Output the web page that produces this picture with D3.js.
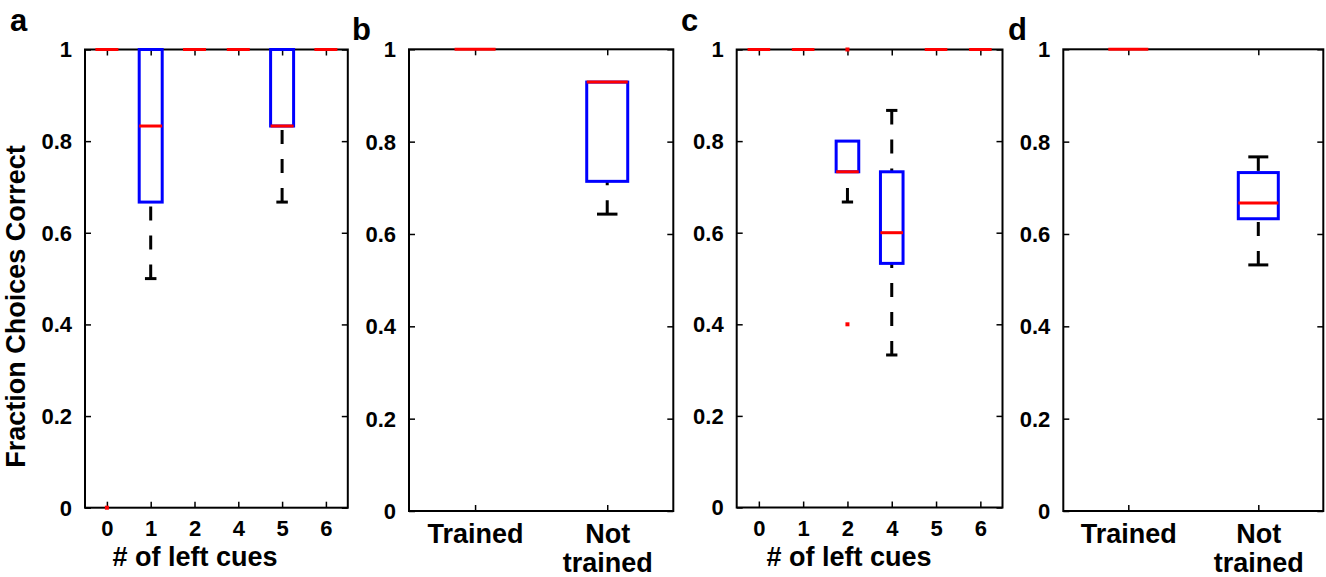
<!DOCTYPE html>
<html>
<head>
<meta charset="utf-8">
<script src="https://cdn.jsdelivr.net/npm/d3@7"></script>
<style>
  html, body { margin: 0; padding: 0; background: #fff; }
  svg { display: block; }
  text { font-family: "Liberation Sans", Arial, Helvetica, sans-serif; font-weight: bold; fill: #000; }
</style>
</head>
<body>
<svg id="chart" width="1326" height="577"></svg>
<script>
// ---- data ----------------------------------------------------------------
const cueCategories = ["0", "1", "2", "4", "5", "6"];
const trainingCategories = ["Trained", "Not trained"];
const yTickValues = [0, 0.2, 0.4, 0.6, 0.8, 1];

// panel a: fraction correct by number of left cues
const aLowerWhisker = [1, 0.5, 1, 1, 0.667, 1];
const aQ1           = [1, 0.667, 1, 1, 0.833, 1];
const aMedian       = [1, 0.833, 1, 1, 0.833, 1];
const aQ3           = [1, 1, 1, 1, 1, 1];
const aUpperWhisker = [1, 1, 1, 1, 1, 1];
const aOutliers     = [[0], [], [], [], [], []];

// panel b: trained vs. not trained trial types
const bLowerWhisker = [1, 0.643];
const bQ1           = [1, 0.714];
const bMedian       = [1, 0.929];
const bQ3           = [1, 0.929];
const bUpperWhisker = [1, 0.929];
const bOutliers     = [[], []];

// panel c: fraction correct by number of left cues
const cLowerWhisker = [1, 1, 0.667, 0.333, 1, 1];
const cQ1           = [1, 1, 0.733, 0.533, 1, 1];
const cMedian       = [1, 1, 0.733, 0.6, 1, 1];
const cQ3           = [1, 1, 0.8, 0.733, 1, 1];
const cUpperWhisker = [1, 1, 0.8, 0.867, 1, 1];
const cOutliers     = [[], [], [0.4, 1], [], [], []];

// panel d: trained vs. not trained trial types
const dLowerWhisker = [1, 0.533];
const dQ1           = [1, 0.633];
const dMedian       = [1, 0.667];
const dQ3           = [1, 0.733];
const dUpperWhisker = [1, 0.767];
const dOutliers     = [[], []];

// ---- layout --------------------------------------------------------------
const panels = [
  { letter: "a", lx: 10, ly: 31, left: 85, right: 347.8, top: 49.5, bottom: 507.7,
    cats: cueCategories, lo: aLowerWhisker, q1: aQ1, med: aMedian, q3: aQ3, hi: aUpperWhisker, out: aOutliers,
    boxW: 23, xTitle: "# of left cues", xTitleX: 195, yTitle: "Fraction Choices Correct" },
  { letter: "b", lx: 352, ly: 40, left: 409, right: 673.3, top: 49.3, bottom: 511,
    cats: trainingCategories, lo: bLowerWhisker, q1: bQ1, med: bMedian, q3: bQ3, hi: bUpperWhisker, out: bOutliers,
    boxW: 41 },
  { letter: "c", lx: 681, ly: 31, left: 736.7, right: 1002.5, top: 49.5, bottom: 507.5,
    cats: cueCategories, lo: cLowerWhisker, q1: cQ1, med: cMedian, q3: cQ3, hi: cUpperWhisker, out: cOutliers,
    boxW: 22.6, xTitle: "# of left cues", xTitleX: 849 },
  { letter: "d", lx: 1008, ly: 40, left: 1063.3, right: 1323.3, top: 49.3, bottom: 511,
    cats: trainingCategories, lo: dLowerWhisker, q1: dQ1, med: dMedian, q3: dQ3, hi: dUpperWhisker, out: dOutliers,
    boxW: 40 }
];

const svg = d3.select("#chart");
const BLUE = "#0000ff", RED = "#ff0000";
const fmt = v => (v === 0 ? "0" : v === 1 ? "1" : v.toFixed(1));

panels.forEach(p => {
  const g = svg.append("g");
  const x = d3.scalePoint().domain(p.cats).range([p.left, p.right]).padding(0.5);
  const y = d3.scaleLinear().domain([0, 1]).range([p.bottom, p.top]);
  const wordy = p.cats.length === 2;

  // panel letter
  svg.append("text").attr("x", p.lx).attr("y", p.ly)
    .style("font-size", "31px").text(p.letter);

  // axes with inward ticks on all four sides
  const styleAxis = sel => {
    sel.select(".domain").remove();
    sel.selectAll(".tick line").attr("stroke", "#000").attr("stroke-width", 1.5);
  };
  g.append("g").attr("transform", `translate(${p.left},0)`)
    .call(d3.axisLeft(y).tickValues(yTickValues).tickFormat(fmt).tickSize(-6).tickPadding(13))
    .call(styleAxis)
    .call(s => s.selectAll("text").style("font-size", "22px").attr("font-family", null).attr("dy", "0.34em"));
  g.append("g").attr("transform", `translate(${p.right},0)`)
    .call(d3.axisRight(y).tickValues(yTickValues).tickFormat("").tickSize(-6))
    .call(styleAxis);
  g.append("g").attr("transform", `translate(0,${p.top})`)
    .call(d3.axisTop(x).tickFormat("").tickSize(-6))
    .call(styleAxis);
  const xAxis = g.append("g").attr("transform", `translate(0,${p.bottom})`)
    .call(d3.axisBottom(x).tickSize(-6).tickPadding(wordy ? 13 : 13))
    .call(styleAxis);
  xAxis.selectAll("text").attr("font-family", null)
    .style("font-size", wordy ? "27px" : "22px");
  if (wordy) {
    xAxis.selectAll("text").each(function (d) {
      const words = d.split(" ");
      if (words.length > 1) {
        const t = d3.select(this).text(null);
        words.forEach((w, i) => {
          t.append("tspan").attr("x", 0).attr("dy", i === 0 ? "0.71em" : "1.08em").text(w);
        });
        t.attr("dy", null);
      }
    });
  }

  // frame
  g.append("rect").attr("x", p.left).attr("y", p.top)
    .attr("width", p.right - p.left).attr("height", p.bottom - p.top)
    .attr("fill", "none").attr("stroke", "#000").attr("stroke-width", 2);

  // axis titles
  if (p.xTitle) {
    svg.append("text").attr("x", p.xTitleX).attr("y", 566).attr("text-anchor", "middle")
      .style("font-size", "27px").text(p.xTitle);
  }
  if (p.yTitle) {
    svg.append("text").attr("transform", `translate(25,306.5) rotate(-90)`)
      .attr("text-anchor", "middle").style("font-size", "27px").text(p.yTitle);
  }

  // boxes
  const rows = p.cats.map((c, i) => ({ c, lo: p.lo[i], q1: p.q1[i], med: p.med[i], q3: p.q3[i], hi: p.hi[i], out: p.out[i] }));
  const bw = p.boxW, cw = p.boxW / 2;
  const marks = g.append("g");

  rows.forEach(r => {
    const cx = x(r.c);
    // whiskers: dashed from the adjacent value to the box edge, with a cap
    [[r.lo, r.q1], [r.hi, r.q3]].forEach(([end, edge]) => {
      if (end === edge) return;
      marks.append("line").attr("x1", cx).attr("x2", cx)
        .attr("y1", y(end)).attr("y2", y(edge))
        .attr("stroke", "#000").attr("stroke-width", 3).attr("stroke-dasharray", "14,15");
      marks.append("line").attr("x1", cx - cw / 2).attr("x2", cx + cw / 2)
        .attr("y1", y(end)).attr("y2", y(end))
        .attr("stroke", "#000").attr("stroke-width", 3);
    });
    // box
    marks.append("rect").attr("x", cx - bw / 2).attr("y", y(r.q3))
      .attr("width", bw).attr("height", y(r.q1) - y(r.q3))
      .attr("fill", "none").attr("stroke", BLUE).attr("stroke-width", 3);
    // median
    marks.append("line").attr("x1", cx - bw / 2).attr("x2", cx + bw / 2)
      .attr("y1", y(r.med)).attr("y2", y(r.med))
      .attr("stroke", RED).attr("stroke-width", 3);
    // outliers
    r.out.forEach(v => {
      marks.append("rect").attr("x", cx - 2).attr("y", y(v) - 2)
        .attr("width", 4).attr("height", 4).attr("fill", RED);
    });
  });
});
</script>
</body>
</html>
